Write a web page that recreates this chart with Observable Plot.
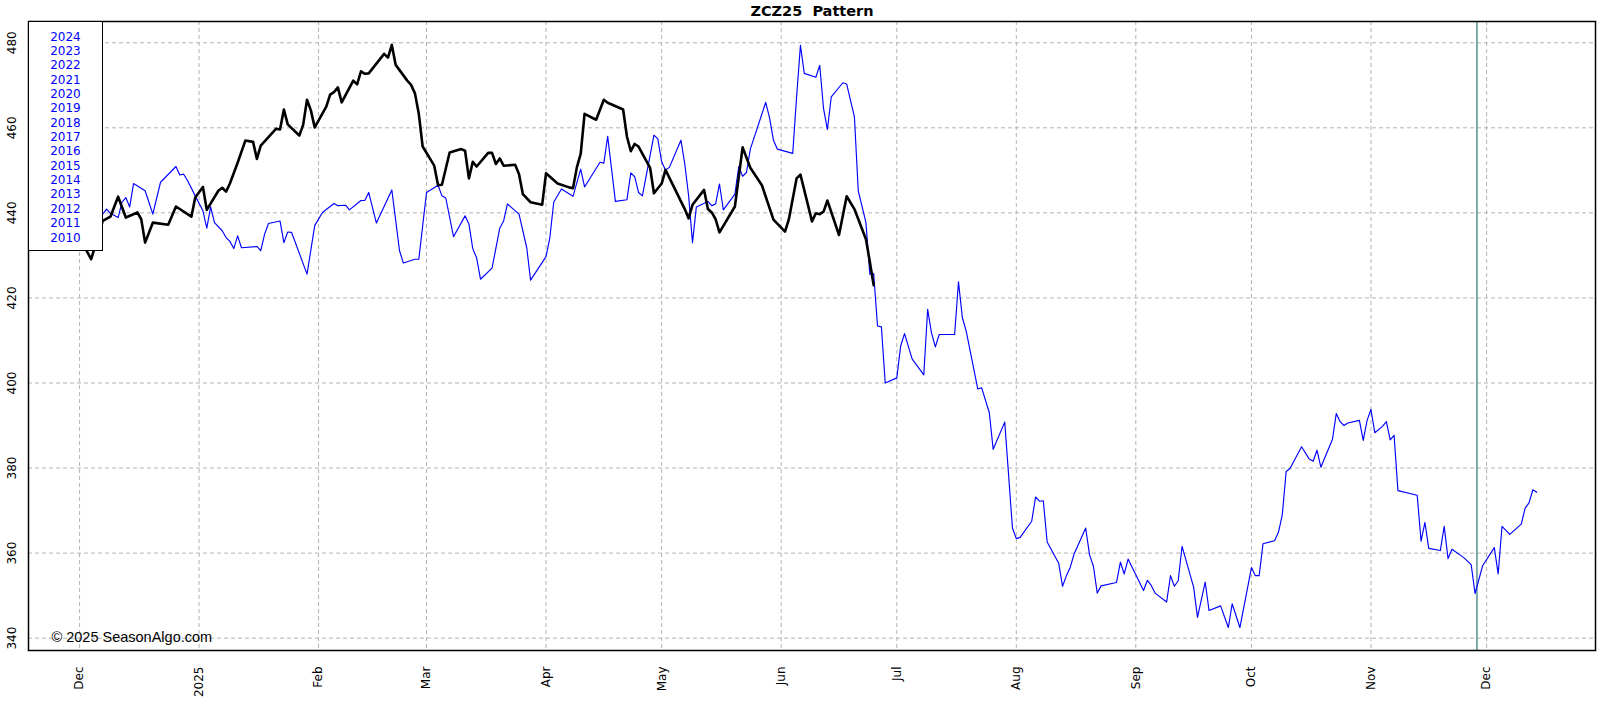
<!DOCTYPE html>
<html><head><meta charset="utf-8">
<script src="https://cdn.jsdelivr.net/npm/d3@7"></script>
<script src="https://cdn.jsdelivr.net/npm/@observablehq/plot@0.6"></script>
<style>
html,body{margin:0;padding:0;background:#fff;}
#wrap{position:relative;width:1604px;height:708px;overflow:hidden;}
#wrap svg{position:absolute;left:0;top:0;}
#legend{position:absolute;left:28px;top:21px;width:75px;height:230px;box-sizing:border-box;background:#fff;border:1px solid #000;
  font-family:"DejaVu Sans";font-size:12px;color:#0000ff;text-align:center;line-height:14.36px;padding-top:7.5px;z-index:2;}
</style></head>
<body><div id="wrap"><div id="legend"></div></div>
<script>
const title = "ZCZ25  Pattern";
const copyright = "© 2025 SeasonAlgo.com";
const legendYears = ["2024","2023","2022","2021","2020","2019","2018","2017","2016","2015","2014","2013","2012","2011","2010"];
const yTicks = [340,360,380,400,420,440,460,480];
const monthTicks = ["2024-12-01","2025-01-01","2025-02-01","2025-03-01","2025-04-01","2025-05-01","2025-06-01","2025-07-01","2025-08-01","2025-09-01","2025-10-01","2025-11-01","2025-12-01"];
const monthLabels = ["Dec","2025","Feb","Mar","Apr","May","Jun","Jul","Aug","Sep","Oct","Nov","Dec"];
const markerDate = "2025-11-28T12:00:00Z";

// Current contract (black, thick)
const currentDates = ["2024-11-19","2024-11-21","2024-11-25","2024-11-27","2024-12-02","2024-12-04","2024-12-07","2024-12-09","2024-12-11","2024-12-13","2024-12-16","2024-12-17","2024-12-18","2024-12-20","2024-12-24","2024-12-26","2024-12-30","2024-12-31",
"2025-01-02","2025-01-03","2025-01-06","2025-01-07","2025-01-08","2025-01-09","2025-01-11","2025-01-13","2025-01-15","2025-01-16","2025-01-17","2025-01-21","2025-01-22","2025-01-23","2025-01-24","2025-01-27","2025-01-28","2025-01-29","2025-01-30","2025-01-31",
"2025-02-03","2025-02-04","2025-02-05","2025-02-06","2025-02-07","2025-02-10","2025-02-11","2025-02-12","2025-02-13","2025-02-14","2025-02-18","2025-02-19","2025-02-20","2025-02-21","2025-02-24","2025-02-25","2025-02-26","2025-02-27","2025-02-28",
"2025-03-03","2025-03-04","2025-03-05","2025-03-07","2025-03-10","2025-03-11","2025-03-12","2025-03-13","2025-03-14","2025-03-17","2025-03-18","2025-03-19","2025-03-20","2025-03-21","2025-03-24","2025-03-25","2025-03-26","2025-03-28","2025-03-31",
"2025-04-01","2025-04-04","2025-04-07","2025-04-08","2025-04-09","2025-04-10","2025-04-11","2025-04-14","2025-04-16","2025-04-17","2025-04-21","2025-04-22","2025-04-23","2025-04-24","2025-04-25","2025-04-28","2025-04-29",
"2025-05-01","2025-05-02","2025-05-06","2025-05-07","2025-05-08","2025-05-09","2025-05-12","2025-05-13","2025-05-14","2025-05-15","2025-05-16","2025-05-20","2025-05-22","2025-05-24","2025-05-27","2025-05-30",
"2025-06-02","2025-06-03","2025-06-05","2025-06-06","2025-06-09","2025-06-10","2025-06-11","2025-06-12","2025-06-13","2025-06-16","2025-06-18","2025-06-20","2025-06-23","2025-06-24","2025-06-25"];
const currentValues = [436.0,437.5,435.0,436.5,432.5,429.1,438.1,439.1,443.8,438.9,440.1,438.5,433.0,437.7,437.2,441.5,439.1,443.6,
446.1,440.7,445.2,445.9,445.0,446.9,451.8,457.0,456.7,452.7,455.8,459.8,459.6,464.3,460.8,458.2,460.7,466.6,464.1,460.1,
465.0,467.8,468.4,469.5,466.0,471.1,470.2,473.3,472.7,472.8,477.4,476.5,479.5,474.8,471.1,470.1,468.1,463.3,455.6,
451.1,446.5,446.6,454.2,455.0,454.6,448.1,452.0,450.9,454.1,454.1,451.5,452.8,451.1,451.3,449.1,444.4,442.5,441.9,
449.3,446.9,446.0,445.8,450.7,453.9,463.3,461.9,466.6,465.9,464.3,457.9,454.5,456.2,455.6,450.6,444.6,
446.9,450.1,442.7,440.9,438.7,441.9,445.4,440.9,440.1,438.5,435.4,441.5,455.4,450.6,446.5,438.4,
435.6,438.5,448.1,449.0,438.0,439.9,439.7,440.3,442.9,434.8,443.9,440.9,433.8,428.5,423.0];

// Seasonal pattern (blue, thin)
const patternDates = ["2024-11-18","2024-11-20","2024-11-22","2024-11-25","2024-11-27","2024-12-02","2024-12-04","2024-12-06","2024-12-08","2024-12-09","2024-12-11","2024-12-12","2024-12-13","2024-12-14","2024-12-15","2024-12-18","2024-12-19","2024-12-20","2024-12-22","2024-12-26","2024-12-27","2024-12-28","2024-12-29","2024-12-31",
"2025-01-02","2025-01-03","2025-01-04","2025-01-05","2025-01-07","2025-01-08","2025-01-09","2025-01-10","2025-01-11","2025-01-12","2025-01-16","2025-01-17","2025-01-18","2025-01-19","2025-01-22","2025-01-23","2025-01-24","2025-01-25","2025-01-29","2025-01-31",
"2025-02-02","2025-02-05","2025-02-06","2025-02-08","2025-02-09","2025-02-12","2025-02-13","2025-02-14","2025-02-16","2025-02-20","2025-02-22","2025-02-23","2025-02-26","2025-02-27",
"2025-03-01","2025-03-04","2025-03-05","2025-03-06","2025-03-08","2025-03-11","2025-03-12","2025-03-13","2025-03-14","2025-03-15","2025-03-18","2025-03-20","2025-03-21","2025-03-22","2025-03-25","2025-03-27","2025-03-28",
"2025-04-01","2025-04-02","2025-04-03","2025-04-05","2025-04-08","2025-04-10","2025-04-11","2025-04-15","2025-04-16","2025-04-17","2025-04-19","2025-04-22","2025-04-23","2025-04-24","2025-04-25","2025-04-26","2025-04-29","2025-04-30",
"2025-05-01","2025-05-02","2025-05-03","2025-05-06","2025-05-07","2025-05-08","2025-05-09","2025-05-10","2025-05-13","2025-05-14","2025-05-15","2025-05-16","2025-05-17","2025-05-20","2025-05-21","2025-05-22","2025-05-23","2025-05-24","2025-05-28","2025-05-29","2025-05-30","2025-05-31",
"2025-06-04","2025-06-05","2025-06-06","2025-06-07","2025-06-10","2025-06-11","2025-06-12","2025-06-13","2025-06-14","2025-06-17","2025-06-18","2025-06-20","2025-06-21","2025-06-23","2025-06-24","2025-06-25","2025-06-26","2025-06-27","2025-06-28",
"2025-07-01","2025-07-02","2025-07-03","2025-07-05","2025-07-08","2025-07-09","2025-07-10","2025-07-11","2025-07-12","2025-07-16","2025-07-17","2025-07-18","2025-07-19","2025-07-22","2025-07-23","2025-07-25","2025-07-26","2025-07-29","2025-07-31",
"2025-08-01","2025-08-02","2025-08-05","2025-08-06","2025-08-07","2025-08-08","2025-08-09","2025-08-12","2025-08-13","2025-08-14","2025-08-15","2025-08-16","2025-08-19","2025-08-20","2025-08-21","2025-08-22","2025-08-23","2025-08-27","2025-08-28","2025-08-29","2025-08-30",
"2025-09-03","2025-09-04","2025-09-05","2025-09-06","2025-09-09","2025-09-10","2025-09-11","2025-09-12","2025-09-13","2025-09-16","2025-09-17","2025-09-19","2025-09-20","2025-09-23","2025-09-25","2025-09-26","2025-09-28",
"2025-10-01","2025-10-02","2025-10-03","2025-10-04","2025-10-07","2025-10-08","2025-10-09","2025-10-10","2025-10-11","2025-10-14","2025-10-16","2025-10-17","2025-10-18","2025-10-19","2025-10-22","2025-10-23","2025-10-24","2025-10-25","2025-10-26","2025-10-29","2025-10-30","2025-10-31",
"2025-11-01","2025-11-02","2025-11-04","2025-11-05","2025-11-06","2025-11-07","2025-11-08","2025-11-13","2025-11-14","2025-11-15","2025-11-16","2025-11-19","2025-11-20","2025-11-21","2025-11-22","2025-11-25","2025-11-27","2025-11-28","2025-11-30",
"2025-12-03","2025-12-04","2025-12-05","2025-12-07","2025-12-10","2025-12-11","2025-12-12","2025-12-13","2025-12-14"];
const patternValues = [437.5,435.5,438.5,436.5,439.5,437.0,440.0,438.5,440.9,439.9,438.9,442.5,443.6,441.4,446.9,445.2,442.5,439.7,447.2,450.9,448.9,449.1,447.6,444.0,
440.5,436.4,441.4,437.7,435.8,434.2,433.3,431.6,434.6,431.8,432.1,431.1,435.0,437.5,438.1,433.0,435.5,435.4,425.6,437.0,
440.1,442.2,441.7,441.8,440.7,442.9,442.9,444.8,437.6,445.4,431.1,428.2,429.1,429.1,
444.8,446.5,444.0,443.5,434.4,439.3,437.4,431.6,429.4,424.4,427.0,436.4,438.1,442.1,439.7,431.8,424.2,
429.7,434.2,442.5,445.6,443.9,450.3,446.1,451.9,451.7,458.0,442.7,443.1,449.4,448.5,444.8,444.0,458.3,457.4,
452.0,450.1,450.7,457.1,451.5,444.0,433.0,441.4,442.7,441.7,442.1,446.8,440.7,444.4,450.9,448.6,449.5,455.0,466.0,462.3,457.1,455.0,
454.0,467.2,479.4,472.8,471.9,474.7,464.5,459.6,467.3,470.6,470.3,462.6,445.2,437.7,425.6,425.7,413.4,413.2,400.0,
401.2,408.7,411.6,405.6,401.9,417.3,411.8,408.5,411.4,411.4,423.8,415.4,412.2,398.6,398.9,393.0,384.4,390.8,365.9,
363.4,363.7,367.5,373.2,372.2,372.3,362.6,357.6,352.2,354.7,356.7,359.8,365.9,359.6,356.9,350.6,352.3,353.1,357.9,355.1,358.6,
351.2,353.6,352.4,350.6,348.5,354.7,352.2,353.5,361.6,352.0,344.9,353.2,346.5,347.6,342.5,348.1,342.5,
356.6,354.7,354.7,362.2,362.9,364.9,369.0,379.2,379.9,385.0,382.1,381.6,384.2,380.2,386.7,392.8,390.9,390.0,390.6,391.2,386.5,391.2,
393.8,388.3,389.8,390.9,386.6,387.7,374.7,373.6,362.8,367.2,361.1,360.6,366.3,358.7,360.9,359.0,357.3,350.5,357.1,
361.3,355.1,366.3,364.4,366.8,370.6,371.8,374.9,374.3];

const current = currentDates.map((d, i) => ({date: new Date(d), value: currentValues[i]}));
const pattern = patternDates.map((d, i) => ({date: new Date(d), value: patternValues[i]}));
const months = monthTicks.map((d, i) => ({date: new Date(d), label: monthLabels[i]}));

document.getElementById("legend").innerHTML = legendYears.map(y => `<div>${y}</div>`).join("");

const grid = {stroke: "#b4b4b4", strokeWidth: 1, strokeDasharray: "4,3"};

const chart = Plot.plot({
  width: 1604,
  height: 708,
  marginLeft: 28,
  marginRight: 9,
  marginTop: 21,
  marginBottom: 58,
  style: {fontFamily: "DejaVu Sans", fontSize: "12px", background: "#fff", overflow: "visible"},
  x: {type: "utc", domain: [new Date("2024-11-17T18:00:00Z"), new Date("2025-12-29T06:00:00Z")], axis: null},
  y: {domain: [337.1, 485.0], axis: null},
  marks: [
    Plot.ruleY(yTicks, {y: d => d, ...grid}),
    Plot.ruleX(months, {x: "date", ...grid}),
    Plot.ruleX([new Date(markerDate)], {x: d => d, stroke: "#2a7676", strokeWidth: 1.2}),
    Plot.line(pattern, {x: "date", y: "value", stroke: "#0000ff", strokeWidth: 1.15, curve: "linear"}),
    Plot.line(current, {x: "date", y: "value", stroke: "#000", strokeWidth: 2.6, curve: "linear"}),
    Plot.frame({stroke: "#000", strokeWidth: 1.5}),
    Plot.text(yTicks, {y: d => d, text: d => String(d), frameAnchor: "left", dx: -16.5, rotate: -90,
      textAnchor: "middle", lineAnchor: "middle", fontSize: 12, fill: "#000"}),
    Plot.text(months, {x: "date", text: "label", frameAnchor: "bottom", dy: 16, rotate: -90,
      textAnchor: "end", lineAnchor: "middle", fontSize: 12, fill: "#000"}),
    Plot.text([title], {text: d => d, frameAnchor: "top", dy: -10.5, lineAnchor: "middle",
      fontSize: 14.5, fontWeight: "bold", fill: "#000"}),
    Plot.text([copyright], {text: d => d, frameAnchor: "bottom-left", dx: 23, dy: -13, textAnchor: "start",
      lineAnchor: "middle", fontFamily: "Liberation Sans", fontSize: 14.5, fill: "#000"})
  ]
});
document.getElementById("wrap").appendChild(chart);
</script>
</body></html>
